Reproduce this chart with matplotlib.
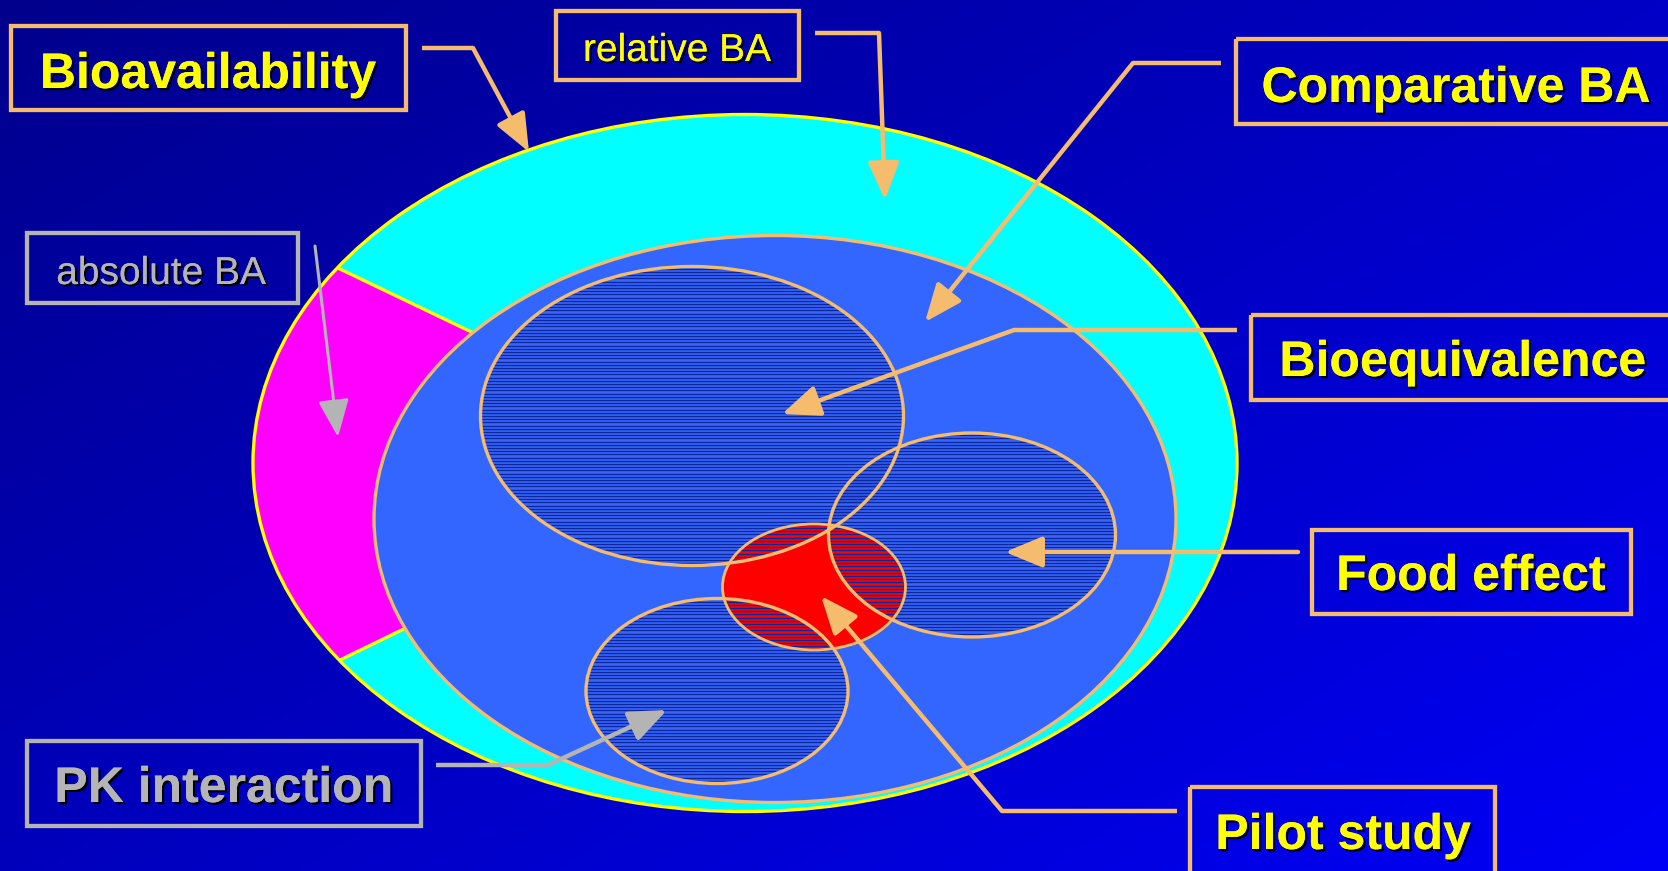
import numpy as np
import matplotlib
matplotlib.use("Agg")
import matplotlib.pyplot as plt
from matplotlib.patches import Ellipse, Polygon, Rectangle
from matplotlib.collections import LineCollection
import matplotlib.patheffects as pe

W, H = 1668, 871

# ellipses: (cx, cy, width, height) in pixel units
outer_ell = (745, 463, 984, 697)
inner_ell = (775, 519, 802, 567)
hatched_ells = [(692, 416, 423, 299),   # bioequivalence
                (972, 535, 287, 204),   # food effect
                (717, 691, 262, 185)]   # PK interaction
pilot_ell = (814, 587, 183, 126)
# ends of the radial cuts that bound the absolute BA wedge
wedge_pts = [(340, 269), (340, 660)]

# label boxes: text, box (x0, y0, x1, y1), text centre, size, weight, colour
labels = ["Bioavailability", "relative BA", "Comparative BA", "absolute BA",
          "Bioequivalence", "Food effect", "PK interaction", "Pilot study"]
boxes = [(11, 26, 406, 110), (556, 11, 799, 80), (1236, 39, 1680, 124),
         (27, 233, 298, 303), (1251, 315, 1680, 400), (1312, 530, 1631, 614),
         (27, 741, 421, 826), (1190, 787, 1495, 880)]
text_pos = [(208, 75), (677, 51), (1456, 89), (161, 274),
            (1463, 363), (1471, 577), (224, 789), (1343, 836)]
text_size = [36, 28, 36, 28, 36, 36, 36, 36]
text_bold = [True, False, True, False, True, True, True, True]
text_col = ["#FFFF00", "#FFFF00", "#FFFF00", "#B4B4B4",
            "#FFFF00", "#FFFF00", "#B4B4B4", "#FFFF00"]
box_col = ["#F5BC6E", "#F5BC6E", "#F5BC6E", "#B4B4B4",
           "#F5BC6E", "#F5BC6E", "#B4B4B4", "#F5BC6E"]

# connector polylines, last point is the arrow tip
connectors = [
    [(422, 48), (473, 48), (529, 152)],
    [(815, 33), (879, 33), (885, 200)],
    [(1221, 63), (1133, 63), (925, 322)],
    [(1237, 330), (1014, 330), (782, 414)],
    [(1298, 552), (1005, 552)],
    [(1177, 811), (1002, 811), (821, 596)],
    [(436, 765), (548, 765), (667, 710)],
    [(315, 246), (338, 437)],
]
conn_col = ["#F5BC6E"] * 6 + ["#B4B4B4", "#B4B4B4"]
conn_lw = [3.2, 3.2, 3.2, 3.2, 3.2, 3.2, 3.2, 2.2]

ORANGE = "#F5BC6E"
HATCH = "#10259A"

fig = plt.figure(figsize=(W / 100, H / 100), dpi=100)
ax = fig.add_axes([0, 0, 1, 1])
ax.set_xlim(0, W)
ax.set_ylim(H, 0)
ax.axis("off")

# diagonal navy -> blue background
yy, xx = np.mgrid[0:H:4, 0:W:4]
t = 0.55 * xx / W + 0.45 * yy / H
bg = np.zeros(xx.shape + (3,))
bg[..., 2] = (140 + t * (246 - 140)) / 255
ax.imshow(bg, extent=(0, W, H, 0), aspect="auto", zorder=0, interpolation="bilinear")


def ell(e, **kw):
    p = Ellipse((e[0], e[1]), e[2], e[3], **kw)
    ax.add_patch(p)
    return p


def ell_span(e, y):
    cx, cy, w, h = e
    r = 1 - ((y - cy) / (h / 2)) ** 2
    if r <= 0:
        return None
    d = (w / 2) * np.sqrt(r)
    return cx - d, cx + d


outer = ell(outer_ell, facecolor="#00FFFF", edgecolor="none", zorder=1)

# magenta wedge cut out of the outer ring
cx, cy = outer_ell[0], outer_ell[1]
far = [(cx + 2 * (px - cx), cy + 2 * (py - cy)) for px, py in wedge_pts]
wedge = Polygon([(cx, cy), far[0], (-600, cy), far[1]], closed=True,
                facecolor="#FF00FF", edgecolor="#FFFF00", lw=2.4, zorder=2)
ax.add_patch(wedge)
wedge.set_clip_path(outer)
ell(outer_ell, facecolor="none", edgecolor="#FFFF00", lw=2.4, zorder=3)

ell(inner_ell, facecolor="#3366FF", edgecolor=ORANGE, lw=2.4, zorder=4)

# horizontal line hatching
ys = np.arange(0, H, 3.2)
segs = []
for e in hatched_ells:
    for y in ys:
        s = ell_span(e, y)
        if s:
            segs.append([(s[0], y), (s[1], y)])
ax.add_collection(LineCollection(segs, colors=HATCH, lw=0.95, zorder=5))

ell(pilot_ell, facecolor="#FF0000", edgecolor="none", zorder=6)
red_segs = []
for e in hatched_ells:
    for y in ys:
        a = ell_span(e, y)
        b = ell_span(pilot_ell, y)
        if a and b:
            lo, hi = max(a[0], b[0]), min(a[1], b[1])
            if hi > lo:
                red_segs.append([(lo, y), (hi, y)])
ax.add_collection(LineCollection(red_segs, colors=HATCH, lw=0.95, zorder=7))
ell(pilot_ell, facecolor="none", edgecolor=ORANGE, lw=2.0, zorder=8)

for e in hatched_ells:
    ell(e, facecolor="none", edgecolor=ORANGE, lw=2.4, zorder=8)

# connectors with arrow heads
for pts, c, lw in zip(connectors, conn_col, conn_lw):
    xs, ys_ = zip(*pts)
    ax.plot(xs[:-1], ys_[:-1], color=c, lw=lw, solid_capstyle="butt",
            solid_joinstyle="miter", zorder=9)
    ax.annotate("", xy=pts[-1], xytext=pts[-2],
                arrowprops=dict(arrowstyle="-|>,head_length=2.3,head_width=0.95",
                                color=c, lw=lw, shrinkA=0, shrinkB=0,
                                mutation_scale=10),
                zorder=9)

shadow = [pe.withSimplePatchShadow(offset=(1.6, -1.6), shadow_rgbFace="black", alpha=1),
          pe.Normal()]
for lab, bx, pos, sz, bold, tc, bc in zip(labels, boxes, text_pos, text_size,
                                           text_bold, text_col, box_col):
    ax.add_patch(Rectangle((bx[0], bx[1]), bx[2] - bx[0], bx[3] - bx[1],
                           facecolor="none", edgecolor=bc, lw=3.1, zorder=10))
    ax.text(pos[0], pos[1], lab, fontsize=sz, color=tc,
            fontweight="bold" if bold else "normal", family="Liberation Sans",
            ha="center", va="center", zorder=11, path_effects=shadow)

fig.savefig("out.png", dpi=100)
